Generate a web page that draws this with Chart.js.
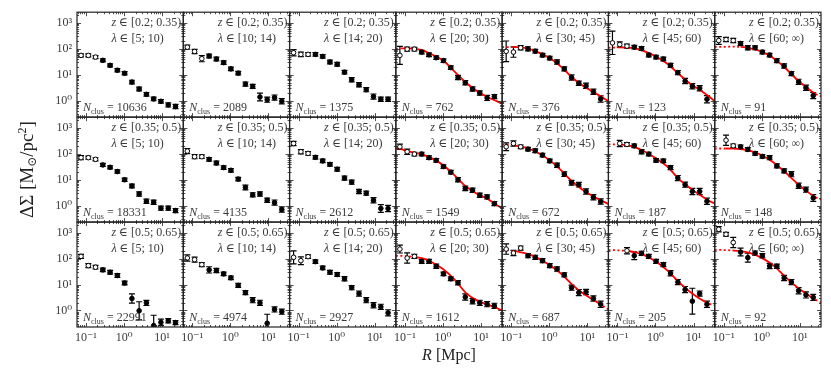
<!DOCTYPE html>
<html>
<head>
<meta charset="utf-8">
<script src="https://cdn.jsdelivr.net/npm/chart.js@4.4.0/dist/chart.umd.min.js"></script>
<style>
  html, body { margin: 0; padding: 0; background: #fff; }
  #wrap { width: 831px; height: 370px; }
</style>
</head>
<body>
<div id="wrap"><canvas id="lensing" width="831" height="370"></canvas></div>
<script>
// radial bins [Mpc] shared by every panel
const rBins = [0.074, 0.115, 0.178, 0.277, 0.43, 0.667, 1.035, 1.61, 2.49, 3.87, 6.0, 9.3, 14.5, 22.5];

const zLabels = ['[0.2; 0.35)', '[0.35; 0.5)', '[0.5; 0.65)'];
const lambdaLabels = ['[5; 10)', '[10; 14)', '[14; 20)', '[20; 30)', '[30; 45)', '[45; 60)', '[60; \u221e)'];
const nClus = [
    [10636, 2089, 1375, 762, 376, 123, 91],
    [18331, 4135, 2612, 1549, 672, 187, 148],
    [22991, 4974, 2927, 1612, 687, 205, 92]
];

// Delta Sigma [Msun/pc^2], one row per lambda bin
const dsZ1 = [
    [55.7, 55.7, 48, 36, 23, 14.9, 11.4, 5.2, 2.8, 1.75, 1.16, 0.94, 0.68, 0.59],
    [116, 79, 41.7, 52.7, 40.4, 29.3, 16.8, 11.5, 4.35, 3.54, 1.38, 1.09, 1.31, 0.94],
    [70.6, 61, 61, 61, 51, 31, 25.3, 12.5, 6.4, 4.1, 2.64, 1.43, 1.13, 1.13],
    [55.8, 97.5, 97.5, 74.8, 59, 45.5, 34.9, 18.8, 7.8, 4.9, 2.8, 1.97, 1.27, 1.43],
    [80, 75, 110, 100, 81, 57, 44, 31, 16.8, 7.8, 4.7, 3.75, 2.2, 1.16],
    [170, 147, 127, 116, 103, 57.5, 48, 40.4, 23, 12.1, 5.7, 3.6, 3.0, 1.13],
    [209, 229, 209, 161, 110, 110, 75, 57.5, 35, 21.8, 11.1, 5.3, 3.15, 1.56]
];
const dsZ2 = [
    [70.6, 70.6, 61, 37, 30, 20.6, 9.9, 5.7, 2.8, 1.47, 1.34, 0.79, 0.79, 0.64],
    [127, 77, 77, 61, 44, 29.3, 23, 10.5, 5.0, 2.6, 2.8, 1.6, 1.3, 0.70],
    [250, 120, 103, 73, 53, 39, 25.3, 11.5, 8.0, 3.5, 3.0, 1.6, 0.77, 0.77],
    [186, 120, 97.5, 97.5, 70.6, 55.8, 32, 19.4, 9.9, 4.6, 3.9, 2.5, 2.15, 1.19],
    [186, 250, 186, 151, 131, 89, 53, 36, 16.3, 7.6, 6.4, 3.5, 2.09, 1.43],
    [null, 250, 229, 203, 120, 97.5, 55.8, 53, 29.3, 11.5, 6.4, 3.5, 3.5, 1.47],
    [null, 334, 203, 186, 147, 103, 79, 70.6, 34, 21.8, 16.3, 5.8, 4.1, 1.97]
];
const dsZ3 = [
    [123, 54, 47, 37, 30, 22.5, 11.5, 2.9, 0.97, 1.96, 0.26, 0.35, 0.40, 0.34],
    [106, 92, 59, 37, 35, 26, 18.3, 9.3, 4.9, 2.5, 1.97, 0.32, 1.1, 0.9],
    [113, 84, 120, 77, 44, 30, 24.5, 16.8, 7.6, 4.5, 2.5, 1.6, 1.38, 0.81],
    [235, 106, 123, 79, 79, 51, 26, 16.8, 11.8, 3.3, 2.28, 1.97, 1.75, 1.51],
    [235, 166, 257, 131, 113, 84, 54, 40, 23.8, 7.6, 4.9, 5.2, 2.9, 1.75],
    [null, null, 203, 131, 161, 123, 79, 59, 27.5, 12.5, 6.4, 2.28, 4.5, 1.75],
    [1370, 880, 424, 180, 110, 165, 130, 52, 51, 18, 12.5, 5.8, 4.0, 3.2]
];

// error bar half-length in dex
const errZ1 = [
    [0.06, 0.06, 0.06, 0.06, 0.06, 0.06, 0.06, 0.07, 0.07, 0.07, 0.07, 0.07, 0.08, 0.08],
    [0.08, 0.08, 0.12, 0.07, 0.07, 0.07, 0.07, 0.07, 0.08, 0.08, 0.15, 0.1, 0.1, 0.1],
    [0.12, 0.09, 0.07, 0.07, 0.07, 0.07, 0.07, 0.07, 0.08, 0.08, 0.08, 0.1, 0.08, 0.08],
    [0.35, 0.08, 0.07, 0.07, 0.07, 0.07, 0.07, 0.07, 0.08, 0.08, 0.08, 0.08, 0.1, 0.08],
    [0.4, 0.2, 0.08, 0.08, 0.07, 0.07, 0.07, 0.08, 0.08, 0.1, 0.08, 0.1, 0.1, 0.12],
    [0.45, 0.1, 0.08, 0.07, 0.07, 0.07, 0.07, 0.07, 0.08, 0.08, 0.1, 0.1, 0.1, 0.14],
    [0.15, 0.08, 0.08, 0.07, 0.08, 0.07, 0.07, 0.07, 0.08, 0.08, 0.08, 0.1, 0.1, 0.12]
];
const errZ2 = [
    [0.08, 0.06, 0.06, 0.06, 0.06, 0.06, 0.06, 0.07, 0.08, 0.08, 0.08, 0.08, 0.08, 0.08],
    [0.1, 0.08, 0.07, 0.07, 0.07, 0.07, 0.07, 0.07, 0.09, 0.08, 0.08, 0.08, 0.1, 0.1],
    [0.08, 0.08, 0.07, 0.07, 0.07, 0.07, 0.07, 0.08, 0.08, 0.08, 0.08, 0.1, 0.15, 0.12],
    [0.1, 0.1, 0.07, 0.07, 0.07, 0.07, 0.07, 0.07, 0.08, 0.09, 0.08, 0.08, 0.08, 0.08],
    [0.15, 0.1, 0.07, 0.07, 0.07, 0.07, 0.07, 0.08, 0.09, 0.09, 0.09, 0.1, 0.1, 0.1],
    [0, 0.12, 0.07, 0.07, 0.08, 0.07, 0.07, 0.07, 0.08, 0.1, 0.1, 0.12, 0.12, 0.12],
    [0, 0.2, 0.07, 0.07, 0.07, 0.07, 0.07, 0.08, 0.08, 0.08, 0.1, 0.1, 0.1, 0.13]
];
const errZ3 = [
    [0.08, 0.08, 0.07, 0.07, 0.07, 0.07, 0.07, 0.18, 0.35, 0.1, 0.4, 0.12, 0.08, 0.08],
    [0.12, 0.1, 0.08, 0.12, 0.08, 0.07, 0.07, 0.08, 0.08, 0.1, 0.1, 0.35, 0.1, 0.1],
    [0.25, 0.15, 0.07, 0.07, 0.07, 0.07, 0.07, 0.08, 0.08, 0.1, 0.1, 0.1, 0.1, 0.12],
    [0.15, 0.2, 0.08, 0.08, 0.08, 0.08, 0.07, 0.07, 0.08, 0.12, 0.1, 0.1, 0.1, 0.1],
    [0.2, 0.1, 0.08, 0.08, 0.08, 0.08, 0.08, 0.08, 0.08, 0.1, 0.12, 0.1, 0.1, 0.12],
    [0, 0, 0.12, 0.15, 0.08, 0.08, 0.08, 0.08, 0.1, 0.1, 0.12, 0.5, 0.1, 0.12],
    [0.1, 0.07, 0.2, 0.15, 0.17, 0.08, 0.08, 0.1, 0.08, 0.1, 0.1, 0.12, 0.12, 0.12]
];

// best-fit model, drawn for the four richest lambda bins
const modelR = [0.058, 0.08, 0.11, 0.17, 0.28, 0.5, 1, 2, 4, 8, 15, 26, 36];
const modelZ1 = [
    [100, 104, 105, 102, 90, 62, 36, 13.5, 5, 2.3, 1.35, 0.95, 0.75],
    [115, 117, 118, 114, 102, 75, 45, 21, 7.8, 3.6, 2.1, 1.3, 0.95],
    [110, 112, 113, 112, 105, 82, 52, 27, 11, 4.6, 2.5, 1.4, 0.95],
    [118, 119, 120, 121, 118, 105, 78, 44, 19, 7, 3.2, 1.8, 1.45]
];
const modelZ2 = [
    [165, 150, 130, 112, 95, 68, 37, 15, 5.5, 2.8, 1.8, 1.05, 0.78],
    [230, 225, 215, 190, 160, 110, 58, 24, 8.5, 3.8, 2.2, 1.45, 1.15],
    [232, 230, 226, 215, 180, 125, 68, 33, 11, 4.8, 2.5, 1.5, 1.2],
    [160, 160, 160, 158, 150, 128, 88, 47, 20, 7.8, 3.6, 2.1, 1.7]
];
const modelZ3 = [
    [130, 128, 125, 118, 105, 75, 40, 16, 4.8, 2.4, 1.7, 1.25, 0.97],
    [220, 212, 200, 180, 150, 105, 58, 27, 10, 4.4, 2.5, 1.5, 1.1],
    [215, 213, 210, 200, 180, 138, 80, 36, 13, 5.3, 2.8, 1.8, 1.6],
    [220, 218, 215, 208, 195, 165, 108, 55, 21, 8.5, 4.3, 2.6, 2.05]
];
// solid part of the model (dotted outside)
const fitMin = [[0.08, 0.11, 0.11, 0.28], [0.058, 0.11, 0.11, 0.11], [0.17, 0.11, 0.17, 0.17]];
const fitMax = [[36, 36, 36, 26], [36, 36, 36, 26], [36, 26, 26, 26]];

const X_MIN = 0.058, X_MAX = 36, Y_MIN = 0.23, Y_MAX = 2600;
const OPEN_BELOW = 0.2;

const SERIF = '"Liberation Serif", "DejaVu Serif", serif';
const TEXT = '#3a3a3a';

const dsRows = [dsZ1, dsZ2, dsZ3];
const errRows = [errZ1, errZ2, errZ3];
const modelRows = [modelZ1, modelZ2, modelZ3];

function logTicks(min, max) {
    const out = [];
    for (let e = Math.floor(Math.log10(min)); e <= Math.ceil(Math.log10(max)); e++) {
        for (let m = 1; m < 10; m++) {
            const v = m * Math.pow(10, e);
            if (v >= min * 0.999 && v <= max * 1.001) out.push(v);
        }
    }
    return out;
}
const xTicks = logTicks(X_MIN, X_MAX);
const yTicks = logTicks(Y_MIN, Y_MAX);

const SUP = { '-': '\u207b', '0': '\u2070', '1': '\u00b9', '2': '\u00b2', '3': '\u00b3' };
function isPow10(v) {
    const e = Math.log10(v);
    return Math.abs(e - Math.round(e)) < 1e-6;
}
function powLabel(v) {
    if (!isPow10(v)) return '';
    return '10' + String(Math.round(Math.log10(v))).split('').map(ch => SUP[ch]).join('');
}

// datasets: points first so they sit on top of the model curves
const pointSets = [];
const modelSets = [];
for (let r = 0; r < 3; r++) {
    for (let c = 0; c < 7; c++) {
        const vals = dsRows[r][c];
        const errs = errRows[r][c];
        const pts = [];
        rBins.forEach((R, k) => {
            if (vals[k] != null) pts.push({ x: R, y: vals[k], e: errs[k] });
        });
        pointSets.push({
            type: 'scatter',
            label: 'z' + r + 'l' + c,
            xAxisID: 'x' + c,
            yAxisID: 'y' + r,
            data: pts,
            pointRadius: 2.3,
            pointBorderWidth: 1,
            pointBorderColor: '#000',
            pointBackgroundColor: ctx => (ctx.raw && ctx.raw.x < OPEN_BELOW ? '#fff' : '#000'),
            errorBars: true
        });
        if (c >= 3) {
            const m = modelRows[r][c - 3];
            const lo = fitMin[r][c - 3], hi = fitMax[r][c - 3];
            modelSets.push({
                type: 'line',
                label: 'model z' + r + 'l' + c,
                xAxisID: 'x' + c,
                yAxisID: 'y' + r,
                data: modelR.map((R, k) => ({ x: R, y: m[k] })),
                borderColor: '#ff0000',
                borderWidth: 1.8,
                pointRadius: 0,
                fill: false,
                cubicInterpolationMode: 'monotone',
                segment: {
                    borderDash: ctx => (ctx.p1.parsed.x <= lo * 1.001 || ctx.p0.parsed.x >= hi * 0.999) ? [2, 2.5] : undefined
                }
            });
        }
    }
}

const scales = {};
for (let c = 0; c < 7; c++) {
    scales['x' + c] = {
        type: 'logarithmic',
        position: 'bottom',
        stack: 'columns',
        stackWeight: 1,
        min: X_MIN,
        max: X_MAX,
        grid: { display: false, drawTicks: false },
        border: { display: false },
        afterBuildTicks: s => { s.ticks = xTicks.map(v => ({ value: v })); },
        afterFit: s => { s.height = 14; },
        ticks: {
            autoSkip: false,
            maxRotation: 0,
            padding: 4,
            color: TEXT,
            font: { family: SERIF, size: 12 },
            callback: v => powLabel(v)
        }
    };
}
// left stack is laid out last-added-first, so add the bottom row first
for (let r = 2; r >= 0; r--) {
    scales['y' + r] = {
        type: 'logarithmic',
        position: 'left',
        stack: 'rows',
        stackWeight: 1,
        min: Y_MIN,
        max: Y_MAX,
        grid: { display: false, drawTicks: false },
        border: { display: false },
        afterBuildTicks: s => { s.ticks = yTicks.map(v => ({ value: v })); },
        afterFit: s => { s.width = 77; },
        ticks: {
            autoSkip: false,
            padding: 5,
            color: TEXT,
            font: { family: SERIF, size: 12 },
            callback: v => powLabel(v)
        }
    };
}

function fontOf(seg, base) {
    return (seg.i ? 'italic ' : '') + (seg.size || base) + 'px ' + SERIF;
}
function drawRich(ctx, segs, x, y, align, base) {
    let w = 0;
    segs.forEach(s => { ctx.font = fontOf(s, base); s.w = ctx.measureText(s.t).width; w += s.w; });
    let cx = align === 'right' ? x - w : (align === 'center' ? x - w / 2 : x);
    const left = cx;
    ctx.textAlign = 'left';
    ctx.textBaseline = 'alphabetic';
    segs.forEach(s => {
        ctx.font = fontOf(s, base);
        ctx.fillText(s.t, cx, y + (s.dy || 0));
        cx += s.w;
    });
    return left;
}

function panelBox(chart, r, c) {
    const xs = chart.scales['x' + c], ys = chart.scales['y' + r];
    return { xs, ys, left: xs.left, right: xs.right, top: ys.top, bottom: ys.bottom };
}

const panelsPlugin = {
    id: 'panels',
    beforeDatasetsDraw(chart) {
        const ctx = chart.ctx;
        ctx.save();
        ctx.strokeStyle = '#000';
        ctx.lineWidth = 1.2;
        chart.data.datasets.forEach(ds => {
            if (!ds.errorBars) return;
            const xs = chart.scales[ds.xAxisID], ys = chart.scales[ds.yAxisID];
            ds.data.forEach(p => {
                const px = xs.getPixelForValue(p.x);
                const f = Math.pow(10, p.e);
                let yt = ys.getPixelForValue(p.y * f);
                let yb = ys.getPixelForValue(p.y / f);
                const capT = yt >= ys.top, capB = yb <= ys.bottom;
                yt = Math.max(yt, ys.top);
                yb = Math.min(yb, ys.bottom);
                ctx.beginPath();
                ctx.moveTo(px, yt); ctx.lineTo(px, yb);
                if (capT) { ctx.moveTo(px - 3, yt); ctx.lineTo(px + 3, yt); }
                if (capB) { ctx.moveTo(px - 3, yb); ctx.lineTo(px + 3, yb); }
                ctx.stroke();
            });
        });
        ctx.restore();
    },
    afterDraw(chart) {
        const ctx = chart.ctx;
        ctx.save();
        for (let r = 0; r < 3; r++) {
            for (let c = 0; c < 7; c++) {
                const b = panelBox(chart, r, c);
                // inward tick marks on all four sides
                ctx.strokeStyle = '#222';
                ctx.lineWidth = 0.8;
                ctx.beginPath();
                xTicks.forEach(v => {
                    const px = Math.round(b.xs.getPixelForValue(v)) + 0.5;
                    const len = isPow10(v) ? 4 : 2;
                    ctx.moveTo(px, b.bottom); ctx.lineTo(px, b.bottom - len);
                    ctx.moveTo(px, b.top); ctx.lineTo(px, b.top + len);
                });
                yTicks.forEach(v => {
                    const py = Math.round(b.ys.getPixelForValue(v)) + 0.5;
                    const len = isPow10(v) ? 4 : 2;
                    ctx.moveTo(b.left, py); ctx.lineTo(b.left + len, py);
                    ctx.moveTo(b.right, py); ctx.lineTo(b.right - len, py);
                });
                ctx.stroke();
                // frame
                ctx.lineWidth = 1.2;
                ctx.strokeStyle = '#222';
                ctx.strokeRect(b.left, b.top, b.right - b.left, b.bottom - b.top);

                // annotations
                ctx.fillStyle = TEXT;
                const left = drawRich(ctx, [{ t: 'z', i: true }, { t: ' \u2208 ' + zLabels[r] }], b.right - 2, b.top + 14, 'right', 12);
                drawRich(ctx, [{ t: '\u03bb', i: true }, { t: ' \u2208 ' + lambdaLabels[c] }], left, b.top + 30, 'left', 12);
                drawRich(ctx, [{ t: 'N', i: true }, { t: 'clus', size: 8, dy: 2.5 }, { t: ' = ' + nClus[r][c] }], b.left + 6, b.bottom - 6, 'left', 12);
            }
        }
        // axis titles
        const ca = chart.chartArea;
        ctx.fillStyle = '#222';
        drawRich(ctx, [{ t: 'R', i: true }, { t: ' [Mpc]' }], (ca.left + ca.right) / 2, 360, 'center', 16);
        ctx.translate(33, (ca.top + ca.bottom) / 2);
        ctx.rotate(-Math.PI / 2);
        drawRich(ctx, [{ t: '\u0394\u03a3 [M' }, { t: '\u2299', size: 12, dy: 3 }, { t: '/pc' }, { t: '2', size: 12, dy: -7 }, { t: ']' }], 0, 0, 'center', 19);
        ctx.restore();
    }
};

new Chart(document.getElementById('lensing'), {
    type: 'scatter',
    data: { datasets: pointSets.concat(modelSets) },
    options: {
        responsive: false,
        animation: false,
        devicePixelRatio: 1,
        layout: { padding: { top: 9, right: 10, bottom: 29, left: 0 } },
        plugins: { legend: { display: false }, tooltip: { enabled: false } },
        scales: scales
    },
    plugins: [panelsPlugin]
});
</script>
</body>
</html>
